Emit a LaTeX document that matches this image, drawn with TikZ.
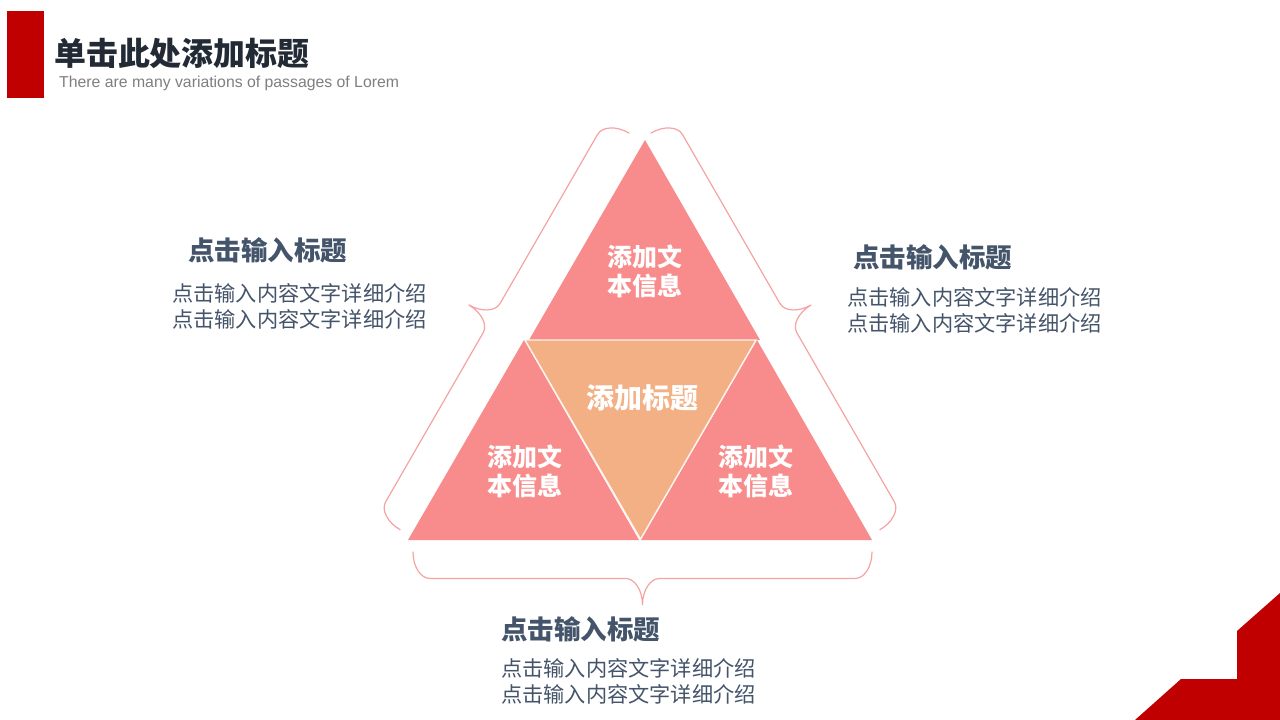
\documentclass[tikz,border=0pt]{standalone}
\usepackage{fontspec}
\setmainfont{Liberation Sans}
\newfontfamily\cjk{Noto Sans CJK SC}
\definecolor{pptred}{HTML}{C00000}
\definecolor{pinkfill}{HTML}{F88B8B}
\definecolor{orangefill}{HTML}{F2B084}
\definecolor{braceline}{HTML}{F5A3A3}
\definecolor{titledark}{HTML}{222A35}
\definecolor{slate}{HTML}{44546A}
\definecolor{subgray}{HTML}{7F7F7F}
\tikzset{
  pinktri/.style={fill=pinkfill, draw=none},
  midtri/.style={fill=orangefill, draw=white!85!orangefill, line width=1.3pt, line join=miter},
  bracestyle/.style={draw=braceline, line width=1.2pt, line cap=round},
  tritext/.style={text=white, font=\cjk\bfseries\fontsize{25}{29}\selectfont, align=center, inner sep=0pt},
  sectitle/.style={text=slate, font=\cjk\bfseries\fontsize{26.5}{30}\selectfont, anchor=west, inner sep=0pt},
  secbody/.style={text=slate, font=\cjk\fontsize{21.2}{26}\selectfont, anchor=west, align=left, inner sep=0pt},
}
% #1 sx  #2 sy (screen px), #3 #4 canvas unit along, #5 #6 canvas unit outward, #7 length
\newcommand{\pptbrace}[7]{%
  \pgfmathsetmacro{\bM}{#7/2}%
  \pgfmathsetmacro{\bL}{#7}%
  \begin{scope}[shift={(#1,#2)}, x={(#3pt,#4pt)}, y={(#5pt,#6pt)}]
    \draw[bracestyle] (0,0) .. controls (0,14.64) and (7.61,26.5) .. (17,26.5)
      -- ({\bM-17},26.5) .. controls ({\bM-7.61},26.5) and (\bM,38.36) .. (\bM,53)
      .. controls (\bM,38.36) and ({\bM+7.61},26.5) .. ({\bM+17},26.5)
      -- ({\bL-17},26.5) .. controls ({\bL-7.61},26.5) and (\bL,14.64) .. (\bL,0);
  \end{scope}}
\begin{document}
\begin{tikzpicture}[x=1pt, y=-1pt]
\useasboundingbox (0,0) rectangle (1280,720);
\fill[white] (0,0) rectangle (1280,720);

% header
\fill[pptred] (7,11) rectangle (44,98);
\node[anchor=west, inner sep=0pt, text=titledark, font=\cjk\bfseries\fontsize{31.9}{35}\selectfont] (title) at (54,53) {单击此处添加标题};
\node[anchor=west, inner sep=0pt, text=subgray, font=\fontsize{15.8}{18}\selectfont] (subtitle) at (59,83) {There are many variations of passages of Lorem};

% corner decoration
\fill[pptred] (1280,593) -- (1237,631) -- (1237,679) -- (1181,679) -- (1135,720) -- (1280,720) -- cycle;

% triangles
\fill[pinktri] (645,140) -- (760,340) -- (529,340) -- cycle;
\fill[pinktri] (524,340) -- (639,540) -- (408,540) -- cycle;
\fill[pinktri] (757,340) -- (872,540) -- (641,540) -- cycle;
\filldraw[midtri] (525,340) -- (756,340) -- (640.5,539) -- cycle;

\node[tritext] (ttop) at (645,271) {添加文\\本信息};
\node[tritext] (tleft) at (525,471) {添加文\\本信息};
\node[tritext] (tright) at (756,471) {添加文\\本信息};
\node[tritext, font=\cjk\bfseries\fontsize{28}{32}\selectfont] (tmid) at (642,398) {添加标题};

% braces
\pptbrace{413}{552}{1}{0}{0}{-1}{459}
\pptbrace{629}{133}{-0.4997}{-0.8662}{-0.8662}{0.4997}{458}
\pptbrace{651}{133}{0.4997}{-0.8662}{0.8662}{0.4997}{458}

% side texts
\node[sectitle] (lt) at (188,250) {点击输入标题};
\node[secbody] (lb) at (172,306) {点击输入内容文字详细介绍\\点击输入内容文字详细介绍};
\node[sectitle] (rt) at (853,257) {点击输入标题};
\node[secbody] (rb) at (847,310) {点击输入内容文字详细介绍\\点击输入内容文字详细介绍};
\node[sectitle] (bt) at (501,629) {点击输入标题};
\node[secbody] (bb) at (501,681.5) {点击输入内容文字详细介绍\\点击输入内容文字详细介绍};
\end{tikzpicture}
\end{document}
